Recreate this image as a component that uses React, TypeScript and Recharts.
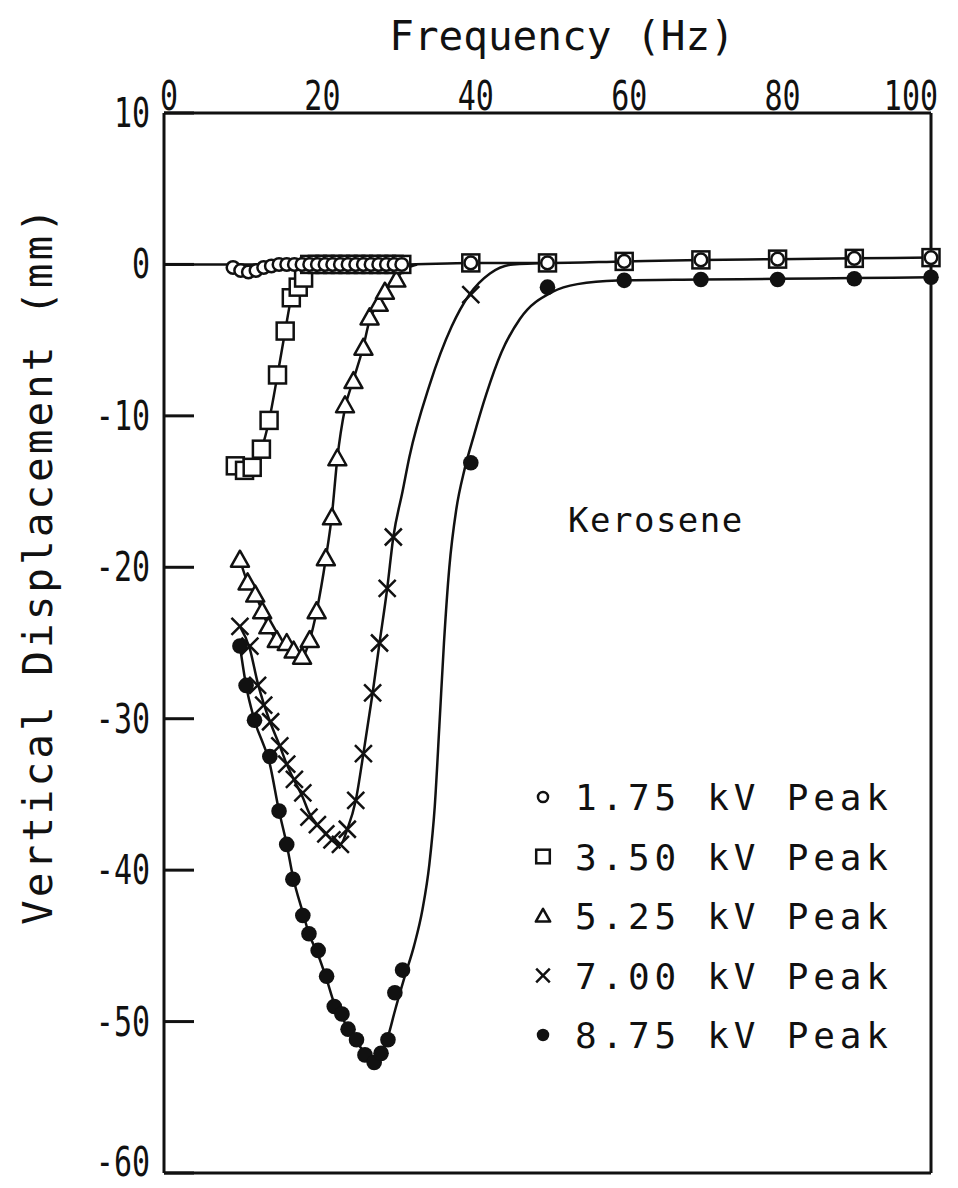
import {
  ComposedChart,
  Legend,
  Line,
  ReferenceLine,
  Scatter,
  XAxis,
  YAxis,
} from 'recharts';

const INK = '#111';
const MONO = '"DejaVu Sans Mono", monospace';

// Measured points: frequency (Hz) and vertical displacement (mm)
const freq175 = [9, 10, 11, 12, 13, 14, 15, 16, 17, 18, 19, 20, 21, 22, 23, 24, 25, 26, 27, 28, 29, 30, 31, 40, 50, 60, 70, 80, 90, 100];
const disp175 = [-0.2, -0.4, -0.5, -0.4, -0.2, -0.1, 0, 0, 0, 0, 0, 0, 0, 0, 0, 0, 0, 0, 0, 0, 0, 0, 0, 0.1, 0.1, 0.2, 0.3, 0.35, 0.4, 0.45];

const freq350 = [9.3, 10.5, 11.5, 12.7, 13.7, 14.8, 15.8, 16.6, 17.5, 18.2, 19, 20, 21, 22, 23, 24, 25, 26, 27, 28, 29, 30, 31, 40, 50, 60, 70, 80, 90, 100];
const disp350 = [-13.3, -13.6, -13.4, -12.2, -10.3, -7.3, -4.4, -2.2, -1.5, -0.9, 0, 0, 0, 0, 0, 0, 0, 0, 0, 0, 0, 0, 0, 0.1, 0.1, 0.2, 0.3, 0.35, 0.4, 0.45];

const freq525 = [9.9, 10.9, 11.9, 12.8, 13.6, 14.7, 16.0, 16.9, 18.0, 19.0, 19.9, 21.1, 21.9, 22.6, 23.6, 24.7, 26.0, 26.8, 28.0, 28.8, 30.3];
const disp525 = [-19.5, -21.0, -21.8, -22.9, -23.9, -24.8, -25.0, -25.5, -25.9, -24.8, -22.9, -19.4, -16.7, -12.8, -9.3, -7.7, -5.5, -3.5, -2.6, -1.8, -1.0];

const freq700 = [9.9, 11.2, 12.2, 13.0, 13.9, 15.1, 16.0, 17.0, 18.1, 18.9, 20.0, 21.1, 21.9, 23.0, 23.9, 25.0, 26.0, 27.2, 28.1, 29.1, 29.9, 40];
const disp700 = [-23.9, -25.2, -27.8, -29.1, -30.2, -31.8, -33.0, -34.0, -34.9, -36.5, -37.0, -37.6, -38.0, -38.3, -37.3, -35.4, -32.3, -28.3, -25.0, -21.4, -18.0, -2.0];

const freq875 = [9.9, 10.7, 11.8, 13.8, 15.0, 16.0, 16.8, 18.1, 18.9, 20.1, 21.2, 22.2, 23.2, 24.0, 25.1, 26.2, 27.4, 28.3, 29.2, 30.1, 31.1, 40, 50, 60, 70, 80, 90, 100];
const disp875 = [-25.2, -27.8, -30.1, -32.5, -36.1, -38.3, -40.6, -43.0, -44.2, -45.3, -47.0, -49.0, -49.5, -50.5, -51.2, -52.2, -52.7, -52.1, -51.2, -48.1, -46.6, -13.1, -1.5, -1.05, -1.0, -1.0, -0.95, -0.85];

// Smooth fitted curves drawn through each data set
const fitFreq175 = [0, 31, 40, 50, 60, 70, 80, 90, 100];
const fitDisp175 = [0, 0, 0.1, 0.1, 0.2, 0.3, 0.35, 0.4, 0.45];

const fitFreq350 = [11.6, 12.7, 13.7, 14.8, 15.8, 16.6, 17.5, 18.4, 19.5, 21];
const fitDisp350 = [-13.3, -12.2, -10.3, -7.3, -4.4, -2.2, -1.2, -0.4, -0.05, 0];

const fitFreq525 = [9.9, 10.9, 11.9, 12.8, 13.6, 14.7, 16.0, 17.0, 18.0, 19.0, 19.9, 21.1, 21.9, 22.6, 23.6, 24.7, 26.0, 26.8, 28.0, 28.8, 30.3, 31.5, 33];
const fitDisp525 = [-19.5, -21.0, -21.8, -22.9, -23.9, -24.8, -25.2, -25.6, -25.9, -24.8, -22.9, -19.4, -16.5, -12.8, -9.5, -7.6, -5.4, -3.7, -2.5, -1.8, -0.9, -0.3, 0];

const fitFreq700 = [9.9, 11.2, 12.2, 13.0, 13.9, 15.1, 16.0, 17.0, 18.1, 18.9, 20.0, 21.1, 21.9, 23.0, 23.9, 25.0, 26.0, 27.2, 28.1, 29.1, 29.9, 31.1, 32.0, 34.6, 37.5, 39.8, 42.5, 45.5, 50];
const fitDisp700 = [-23.9, -25.4, -27.6, -29.0, -30.3, -31.8, -33.0, -34.1, -35.2, -36.2, -37.0, -37.6, -38.0, -38.3, -37.3, -35.4, -32.3, -28.3, -25.0, -21.4, -18.0, -15.0, -12.7, -8.0, -4.1, -2.0, -0.6, 0, 0.1];

const fitFreq875 = [9.9, 10.7, 11.8, 13.8, 15.0, 16.0, 16.8, 18.1, 18.9, 20.1, 21.2, 22.2, 23.2, 24.0, 25.1, 26.2, 27.4, 28.3, 29.2, 30.1, 31.4, 32.6, 33.7, 34.6, 35.3, 35.9, 36.5, 37.2, 38.1, 39.2, 40.4, 42.0, 44.0, 46.4, 50.7, 53.9, 59.1, 70, 80, 90, 100];
const fitDisp875 = [-25.2, -27.8, -30.1, -33.0, -36.1, -38.3, -40.4, -42.8, -44.2, -45.6, -47.2, -48.8, -49.7, -50.5, -51.3, -52.1, -52.6, -52.2, -51.0, -49.3, -47.0, -45.0, -42.6, -39.6, -35.8, -30.5, -25.0, -20.0, -16.2, -13.5, -11.3, -8.6, -5.8, -3.6, -1.8, -1.3, -1.06, -1.0, -0.95, -0.9, -0.85];

const xTicks = [0, 20, 40, 60, 80, 100];
const yTicks = [10, 0, -10, -20, -30, -40, -50, -60];

const legendLabels = ['1.75 kV Peak', '3.50 kV Peak', '5.25 kV Peak', '7.00 kV Peak', '8.75 kV Peak'];

type Pt = { f: number; d: number };
const toPoints = (f: number[], d: number[]): Pt[] => f.map((v, i) => ({ f: v, d: d[i] }));

type MarkerKind = 'circle' | 'square' | 'triangle' | 'cross' | 'dot';

const series: { kind: MarkerKind; points: Pt[]; fit: Pt[] }[] = [
  { kind: 'circle', points: toPoints(freq175, disp175), fit: toPoints(fitFreq175, fitDisp175) },
  { kind: 'square', points: toPoints(freq350, disp350), fit: toPoints(fitFreq350, fitDisp350) },
  { kind: 'triangle', points: toPoints(freq525, disp525), fit: toPoints(fitFreq525, fitDisp525) },
  { kind: 'cross', points: toPoints(freq700, disp700), fit: toPoints(fitFreq700, fitDisp700) },
  { kind: 'dot', points: toPoints(freq875, disp875), fit: toPoints(fitFreq875, fitDisp875) },
];

// open symbols on top of the filled ones, circles last so they show inside the squares
const drawOrder: MarkerKind[] = ['dot', 'cross', 'triangle', 'square', 'circle'];

function Marker({ kind, cx, cy, s = 1 }: { kind: MarkerKind; cx: number; cy: number; s?: number }) {
  const sw = 2.5;
  switch (kind) {
    case 'circle':
      return <circle cx={cx} cy={cy} r={6.3 * s} fill="#fff" stroke={INK} strokeWidth={sw} />;
    case 'square': {
      const h = 8.5 * s;
      return <rect x={cx - h} y={cy - h} width={2 * h} height={2 * h} fill="#fff" stroke={INK} strokeWidth={sw} />;
    }
    case 'triangle': {
      const w = 9 * s;
      return (
        <polygon
          points={`${cx},${cy - 9 * s} ${cx - w},${cy + 7 * s} ${cx + w},${cy + 7 * s}`}
          fill="#fff"
          stroke={INK}
          strokeWidth={sw}
          strokeLinejoin="round"
        />
      );
    }
    case 'cross': {
      const a = 8.5 * s;
      return (
        <path
          d={`M${cx - a},${cy - a}L${cx + a},${cy + a}M${cx - a},${cy + a}L${cx + a},${cy - a}`}
          stroke={INK}
          strokeWidth={sw}
          fill="none"
        />
      );
    }
    default:
      return <circle cx={cx} cy={cy} r={7.8 * s} fill={INK} />;
  }
}

function XTick({ x, y, payload }: any) {
  const last = payload.value === xTicks[xTicks.length - 1];
  return (
    <g transform={`translate(${last ? x + 7 : x + 5},${y - 3})`}>
      <text
        transform="scale(0.75,1)"
        textAnchor={last ? 'end' : 'middle'}
        fontFamily={MONO}
        fontSize={40}
        fill={INK}
      >
        {payload.value}
      </text>
    </g>
  );
}

function YTick({ x, y, payload }: any) {
  // keep the lowest label inside the page
  const baseline = Math.min(14, 1176 - y);
  return (
    <g transform={`translate(${x},${y})`}>
      <line x1={0} x2={30} y1={0} y2={0} stroke={INK} strokeWidth={3} />
      <g transform={`translate(-14,${baseline})`}>
        <text transform="scale(0.75,1)" textAnchor="end" fontFamily={MONO} fontSize={40} fill={INK}>
          {payload.value}
        </text>
      </g>
    </g>
  );
}

function XTitle() {
  return (
    <text x={562} y={50} textAnchor="middle" fontFamily={MONO} fontSize={41} fill={INK}>
      Frequency (Hz)
    </text>
  );
}

function YTitle() {
  return (
    <text
      transform="translate(52,565) rotate(-90)"
      textAnchor="middle"
      fontFamily={MONO}
      fontSize={41}
      letterSpacing={3}
      fill={INK}
    >
      Vertical Displacement (mm)
    </text>
  );
}

function LegendBox() {
  const kinds: MarkerKind[] = series.map((s) => s.kind);
  return (
    <svg width={420} height={600} style={{ display: 'block', overflow: 'visible' }}>
      <text x={48} y={52} fontFamily={MONO} fontSize={34} letterSpacing={1.5} fill={INK}>
        Kerosene
      </text>
      {legendLabels.map((label, i) => {
        const cy = 317 + i * 59.5;
        return (
          <g key={label}>
            <Marker kind={kinds[i]} cx={23} cy={cy} s={0.8} />
            <text x={55} y={cy + 13} fontFamily={MONO} fontSize={36} letterSpacing={4.8} fill={INK}>
              {label}
            </text>
          </g>
        );
      })}
    </svg>
  );
}

export default function App() {
  return (
    <div style={{ position: 'absolute', left: 0, top: 0, width: 958, height: 1188, background: '#fff' }}>
      <ComposedChart width={958} height={1188} margin={{ top: 0, right: 27, bottom: 15, left: 0 }}>
        <XAxis
          type="number"
          dataKey="f"
          orientation="top"
          domain={[0, 100]}
          ticks={xTicks}
          height={113}
          axisLine={false}
          tickLine={false}
          tickSize={0}
          tickMargin={0}
          tick={<XTick />}
          label={<XTitle />}
        />
        <YAxis
          type="number"
          dataKey="d"
          domain={[-60, 10]}
          ticks={yTicks}
          width={164}
          axisLine={false}
          tickLine={false}
          tickSize={0}
          tickMargin={0}
          tick={<YTick />}
          label={<YTitle />}
        />
        <ReferenceLine x={0} stroke={INK} strokeWidth={3} />
        <ReferenceLine x={100} stroke={INK} strokeWidth={3} />
        <ReferenceLine y={10} stroke={INK} strokeWidth={3} />
        <ReferenceLine y={-60} stroke={INK} strokeWidth={3} />
        {series.map((s) => (
          <Line
            key={`fit-${s.kind}`}
            data={s.fit}
            dataKey="d"
            type="monotone"
            stroke={INK}
            strokeWidth={2.5}
            dot={false}
            activeDot={false}
            legendType="none"
            isAnimationActive={false}
          />
        ))}
        {drawOrder.map((kind) => {
          const s = series.find((item) => item.kind === kind)!;
          return (
            <Scatter
              key={`pts-${kind}`}
              data={s.points}
              dataKey="d"
              legendType="none"
              isAnimationActive={false}
              shape={(p: any) => <Marker kind={kind} cx={p.cx} cy={p.cy} />}
            />
          );
        })}
        <Legend
          layout="vertical"
          align="center"
          verticalAlign="middle"
          content={<LegendBox />}
          wrapperStyle={{ left: 520, top: 480, width: 420, height: 600 }}
        />
      </ComposedChart>
    </div>
  );
}
